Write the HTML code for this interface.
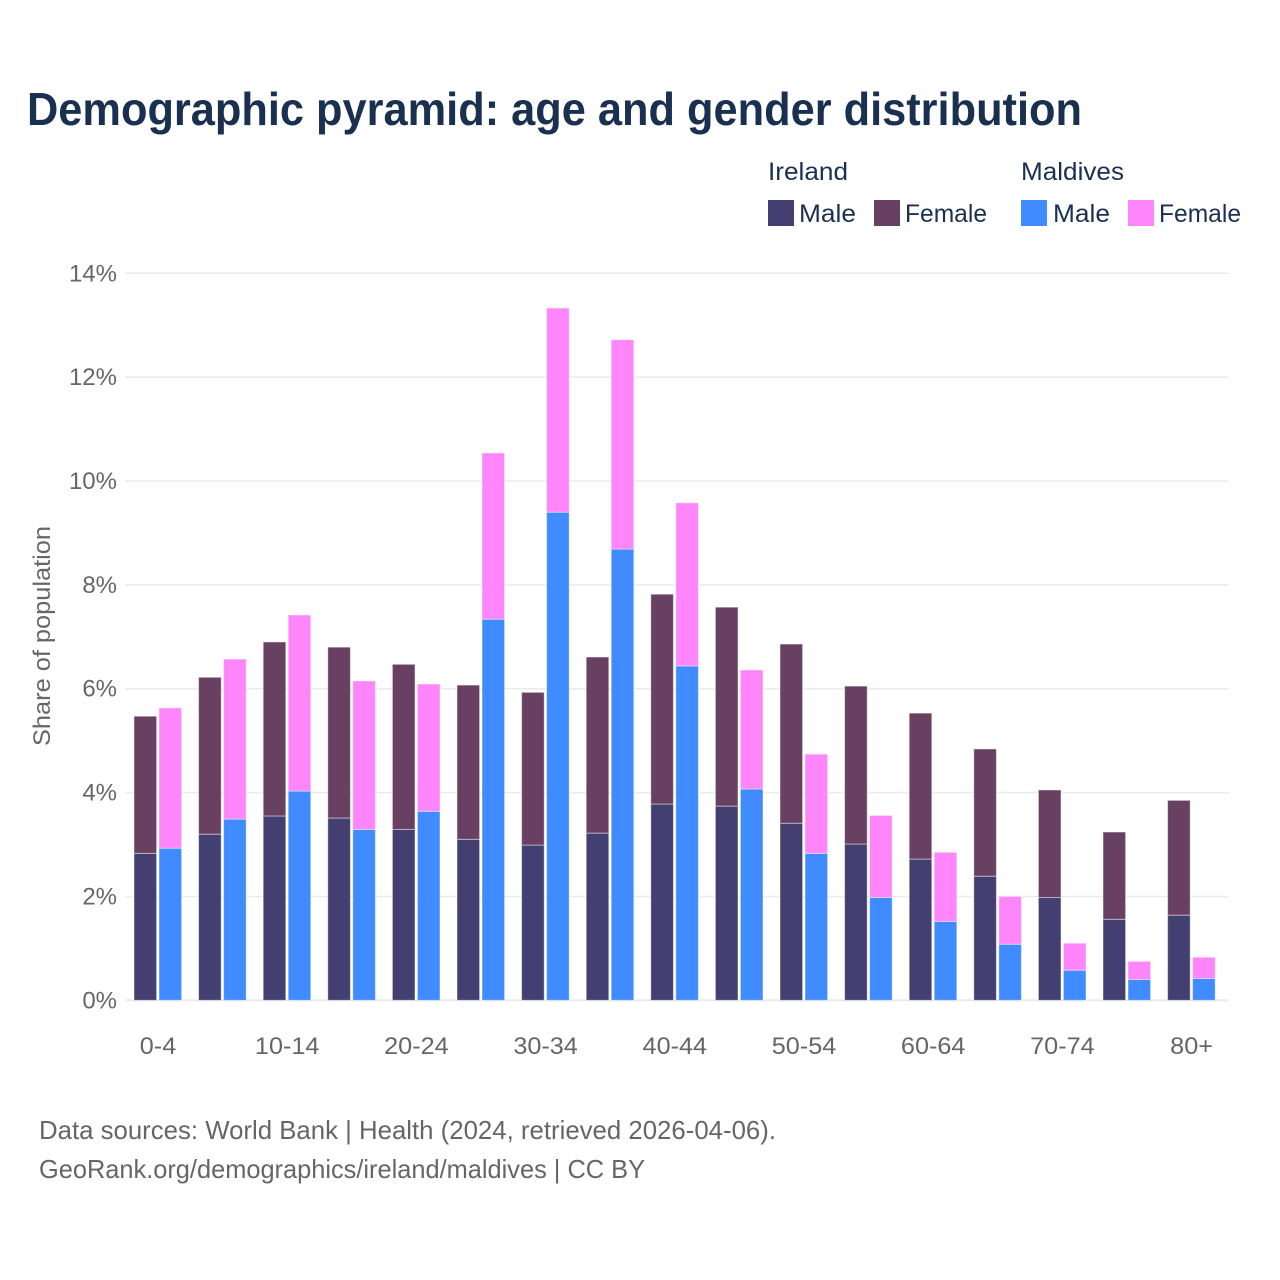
<!DOCTYPE html>
<html>
<head>
<meta charset="utf-8">
<title>Demographic pyramid</title>
<style>
html,body{margin:0;padding:0;background:#fff;}
svg{display:block;font-family:"Liberation Sans",sans-serif;}
</style>
</head>
<body>
<svg id="chart" width="1280" height="1280" viewBox="0 0 1280 1280" xmlns="http://www.w3.org/2000/svg">
  <rect x="0" y="0" width="1280" height="1280" fill="#ffffff"/>
  <text x="27" y="125" font-size="46" font-weight="700" fill="#1a3050" textLength="1055" lengthAdjust="spacingAndGlyphs">Demographic pyramid: age and gender distribution</text>

  <g font-size="25" fill="#1a3050">
    <text x="768" y="180" textLength="80" lengthAdjust="spacingAndGlyphs">Ireland</text>
    <text x="1021" y="180" textLength="103" lengthAdjust="spacingAndGlyphs">Maldives</text>
    <rect x="768" y="200" width="26" height="26" fill="#433f70"/>
    <text x="799" y="222" textLength="57" lengthAdjust="spacingAndGlyphs">Male</text>
    <rect x="874" y="200" width="26" height="26" fill="#684162"/>
    <text x="905" y="222" textLength="82" lengthAdjust="spacingAndGlyphs">Female</text>
    <rect x="1021" y="200" width="26" height="26" fill="#3f8bff"/>
    <text x="1053" y="222" textLength="57" lengthAdjust="spacingAndGlyphs">Male</text>
    <rect x="1128" y="200" width="26" height="26" fill="#ff85fa"/>
    <text x="1159" y="222" textLength="82" lengthAdjust="spacingAndGlyphs">Female</text>
  </g>

  <g id="grid"></g>
  <g id="bars"></g>
  <g id="yticks"></g>
  <g id="xticks"></g>

  <text transform="translate(50,746) rotate(-90)" x="0" y="0" font-size="24" fill="#666666" textLength="220" lengthAdjust="spacingAndGlyphs">Share of population</text>

  <text x="39" y="1139" font-size="26" fill="#666666" textLength="737" lengthAdjust="spacingAndGlyphs">Data sources: World Bank | Health (2024, retrieved 2026-04-06).</text>
  <text x="39" y="1178" font-size="26" fill="#666666" textLength="606" lengthAdjust="spacingAndGlyphs">GeoRank.org/demographics/ireland/maldives | CC BY</text>
</svg>
<script>
const ageGroups = ["0-4","5-9","10-14","15-19","20-24","25-29","30-34","35-39","40-44","45-49","50-54","55-59","60-64","65-69","70-74","75-79","80+"];
const irelandMale = [2.83,3.20,3.55,3.51,3.29,3.10,2.99,3.22,3.78,3.74,3.41,3.01,2.72,2.39,1.98,1.56,1.64];
const irelandFemale = [2.64,3.02,3.35,3.29,3.18,2.97,2.94,3.39,4.04,3.83,3.45,3.04,2.81,2.45,2.07,1.68,2.21];
const maldivesMale = [2.93,3.49,4.03,3.29,3.64,7.34,9.40,8.69,6.44,4.07,2.83,1.98,1.52,1.08,0.58,0.40,0.42];
const maldivesFemale = [2.70,3.08,3.39,2.86,2.45,3.20,3.93,4.03,3.14,2.29,1.91,1.58,1.33,0.92,0.52,0.35,0.41];
const yTickValues = [0,2,4,6,8,10,12,14];

const NS = "http://www.w3.org/2000/svg";
const yBase = 1000.3;
const yPerUnit = 51.93;
const xFirst = 158;
const xStep = 64.6;
function yScale(v){ return yBase - v * yPerUnit; }
function xScale(i){ return xFirst + i * xStep; }

const gridG = document.getElementById("grid");
const barsG = document.getElementById("bars");
const yG = document.getElementById("yticks");
const xG = document.getElementById("xticks");

yTickValues.forEach(function(t){
  const line = document.createElementNS(NS, "line");
  
  
  line.setAttribute("x1", 125);
  line.setAttribute("x2", 1229);
  line.setAttribute("y1", yScale(t));
  line.setAttribute("y2", yScale(t));
  line.setAttribute("stroke", "#ebebeb");
  line.setAttribute("stroke-width", t === 0 ? 2 : 1.5);
  gridG.appendChild(line);

  const label = document.createElementNS(NS, "text");
  
  
  label.setAttribute("x", 117);
  label.setAttribute("y", yScale(t) + 8);
  label.setAttribute("text-anchor", "end");
  label.setAttribute("font-size", 24);
  label.setAttribute("fill", "#666666");
  label.textContent = t + "%";
  yG.appendChild(label);
});

function addBar(x, v0, v1, fill){
  const r = document.createElementNS(NS, "rect");
  
  
  r.setAttribute("x", x);
  r.setAttribute("width", 22.6);
  r.setAttribute("y", yScale(v1));
  r.setAttribute("height", yScale(v0) - yScale(v1));
  r.setAttribute("fill", fill);
  r.setAttribute("stroke", "#ffffff");
  r.setAttribute("stroke-opacity", "0.45");
  r.setAttribute("stroke-width", "1");
  barsG.appendChild(r);
}

ageGroups.forEach(function(name, i){
  const c = xScale(i);
  addBar(c - 24, 0, irelandMale[i], "#433f70");
  addBar(c - 24, irelandMale[i], irelandMale[i] + irelandFemale[i], "#684162");
  addBar(c + 1, 0, maldivesMale[i], "#3f8bff");
  addBar(c + 1, maldivesMale[i], maldivesMale[i] + maldivesFemale[i], "#ff85fa");

  if (i % 2 === 0) {
    const label = document.createElementNS(NS, "text");
    
    
    label.setAttribute("x", c);
    label.setAttribute("y", 1054);
    label.setAttribute("text-anchor", "middle");
    label.setAttribute("font-size", 24);
    label.setAttribute("fill", "#666666");
    label.textContent = name;
    xG.appendChild(label);
    label.setAttribute("textLength", (label.getComputedTextLength() * 1.05).toFixed(1));
    label.setAttribute("lengthAdjust", "spacingAndGlyphs");
  }
});
</script>
</body>
</html>
